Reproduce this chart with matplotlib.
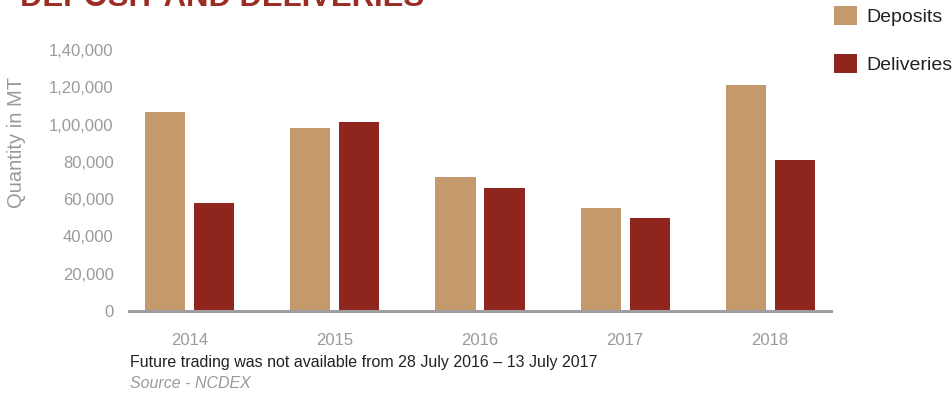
import numpy as np
import matplotlib.pyplot as plt

plt.rcParams['font.family'] = ['Liberation Sans', 'DejaVu Sans']

# data
years = ['2014', '2015', '2016', '2017', '2018']
deposits = [107000, 98000, 72000, 55000, 121000]
deliveries = [58000, 101500, 66000, 50000, 81000]
ytick_vals = [0, 20000, 40000, 60000, 80000, 100000, 120000, 140000]
ytick_labels = ['0', '20,000', '40,000', '60,000', '80,000', '1,00,000', '1,20,000', '1,40,000']

dep_color = '#C49A6C'
del_color = '#8E261E'
grey = '#9A9A9A'

fig = plt.figure(figsize=(9.53, 3.96), dpi=100)
ax = fig.add_axes([129 / 953, 85 / 396, (831 - 129) / 953, (346 - 85) / 396])

x = np.arange(len(years))
w = 0.276
off = 0.169
ax.bar(x - off, deposits, w, color=dep_color, label='Deposits', zorder=2)
ax.bar(x + off, deliveries, w, color=del_color, label='Deliveries', zorder=2)

ax.set_xlim(-0.42, 4.42)
ax.set_ylim(0, 140000)
ax.set_xticks(x)
ax.set_xticklabels(years)
ax.set_yticks(ytick_vals)
ax.set_yticklabels(ytick_labels)
ax.tick_params(axis='both', length=0, labelsize=12, labelcolor=grey)
ax.tick_params(axis='y', pad=11)
ax.tick_params(axis='x', pad=16)

for s in ['top', 'right', 'left']:
    ax.spines[s].set_visible(False)
ax.spines['bottom'].set_color('#9E9EA3')
ax.spines['bottom'].set_linewidth(2.2)
ax.spines['bottom'].set_zorder(3)

fig.text(17 / 953, 1 - 142 / 396, 'Quantity in MT', rotation=90, fontsize=14.5,
         color=grey, ha='center', va='center')

# title, cut off at the top edge
fig.text(20 / 953, 1 - 6 / 396, 'DEPOSIT AND DELIVERIES', fontsize=22.3, fontweight='bold',
         color='#9B2D24', ha='left', va='baseline')

# legend drawn as squares + text
leg = fig.legend(loc='upper left', bbox_to_anchor=(817 / 953, 1 + 12 / 396), frameon=False,
                 fontsize=14, handlelength=1.15, handleheight=1.15, labelspacing=1.45,
                 handletextpad=0.5)
for t in leg.get_texts():
    t.set_color('#222222')

fig.text(130 / 953, 1 - 362 / 396, 'Future trading was not available from 28 July 2016 \u2013 13 July 2017',
         fontsize=11.5, color='#222222', ha='left', va='center')
fig.text(130 / 953, 1 - 384 / 396, 'Source - NCDEX', fontsize=11.5, style='italic',
         color=grey, ha='left', va='center')

fig.savefig('out.png', dpi=100)
